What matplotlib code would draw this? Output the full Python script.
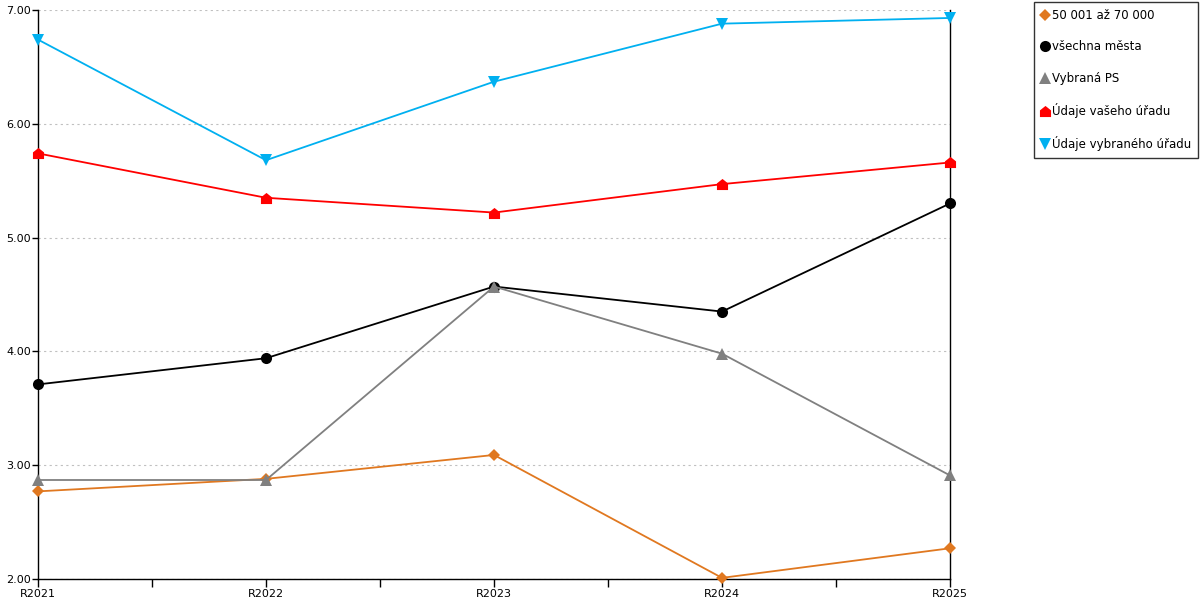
import matplotlib.pyplot as plt
import numpy as np
from matplotlib.path import Path
from matplotlib.lines import Line2D

years = ["R2021", "R2022", "R2023", "R2024", "R2025"]

kat_50_70 = [2.77, 2.88, 3.09, 2.01, 2.27]
vsechna_mesta = [3.71, 3.94, 4.57, 4.35, 5.30]
vybrana_ps = [2.87, 2.87, 4.57, 3.98, 2.91]
vas_urad = [5.74, 5.35, 5.22, 5.47, 5.66]
vybrany_urad = [6.74, 5.68, 6.37, 6.88, 6.93]

labels = ["50 001 až 70 000", "všechna města", "Vybraná PS",
          "Údaje vašeho úřadu", "Údaje vybraného úřadu"]

# marker ve tvaru domecku
house = Path([(-1, -1), (1, -1), (1, 0.2), (0, 1), (-1, 0.2), (-1, -1)],
             [Path.MOVETO, Path.LINETO, Path.LINETO, Path.LINETO, Path.LINETO, Path.CLOSEPOLY])

series = [
    (kat_50_70, "#E07820", "D", 6),
    (vsechna_mesta, "#000000", "o", 8),
    (vybrana_ps, "#808080", "^", 8),
    (vas_urad, "#FF0000", house, 8),
    (vybrany_urad, "#00B0F0", "v", 8),
]

fig = plt.figure(figsize=(12, 6), dpi=100)
ax = fig.add_axes([38/1200, 21/600, 912/1200, 569/600])

x = np.arange(len(years))
handles = []
for (vals, col, mk, ms), lab in zip(series, labels):
    ax.plot(x, vals, color=col, lw=1.3, marker=mk, markersize=ms,
            markeredgewidth=0, zorder=3, clip_on=False)
    handles.append(Line2D([], [], color=col, marker=mk, markersize=ms,
                          markeredgewidth=0, linestyle="none", label=lab))

ax.set_xlim(0, 4)
ax.set_ylim(2, 7)
yt = np.arange(2, 7.01, 1)
ax.set_yticks(yt)
ax.set_yticklabels([f"{v:.2f}" for v in yt])
ax.set_xticks(x)
ax.set_xticklabels(years)
ax.set_xticks(x[:-1] + 0.5, minor=True)
ax.tick_params(axis="x", which="both", direction="out", length=6, width=1,
               labelsize=8, pad=1)
ax.tick_params(axis="y", direction="out", length=4, width=1, labelsize=8, pad=1)
ax.yaxis.grid(True, color="#C0C0C0", linestyle=(0, (2, 3)), lw=0.8)
ax.set_axisbelow(True)

ax.spines["top"].set_visible(False)
for s in ["left", "bottom", "right"]:
    ax.spines[s].set_color("black")
    ax.spines[s].set_linewidth(1)

leg = fig.legend(handles=handles, loc="upper left",
                 bbox_to_anchor=(1034/1200, 1 - 2/600), fontsize=8.5,
                 frameon=True, fancybox=False, edgecolor="black",
                 handlelength=0.6, handletextpad=0.3, labelspacing=1.55,
                 borderpad=0.6, borderaxespad=0)
leg.get_frame().set_linewidth(1)

fig.savefig("out.png", dpi=100)
